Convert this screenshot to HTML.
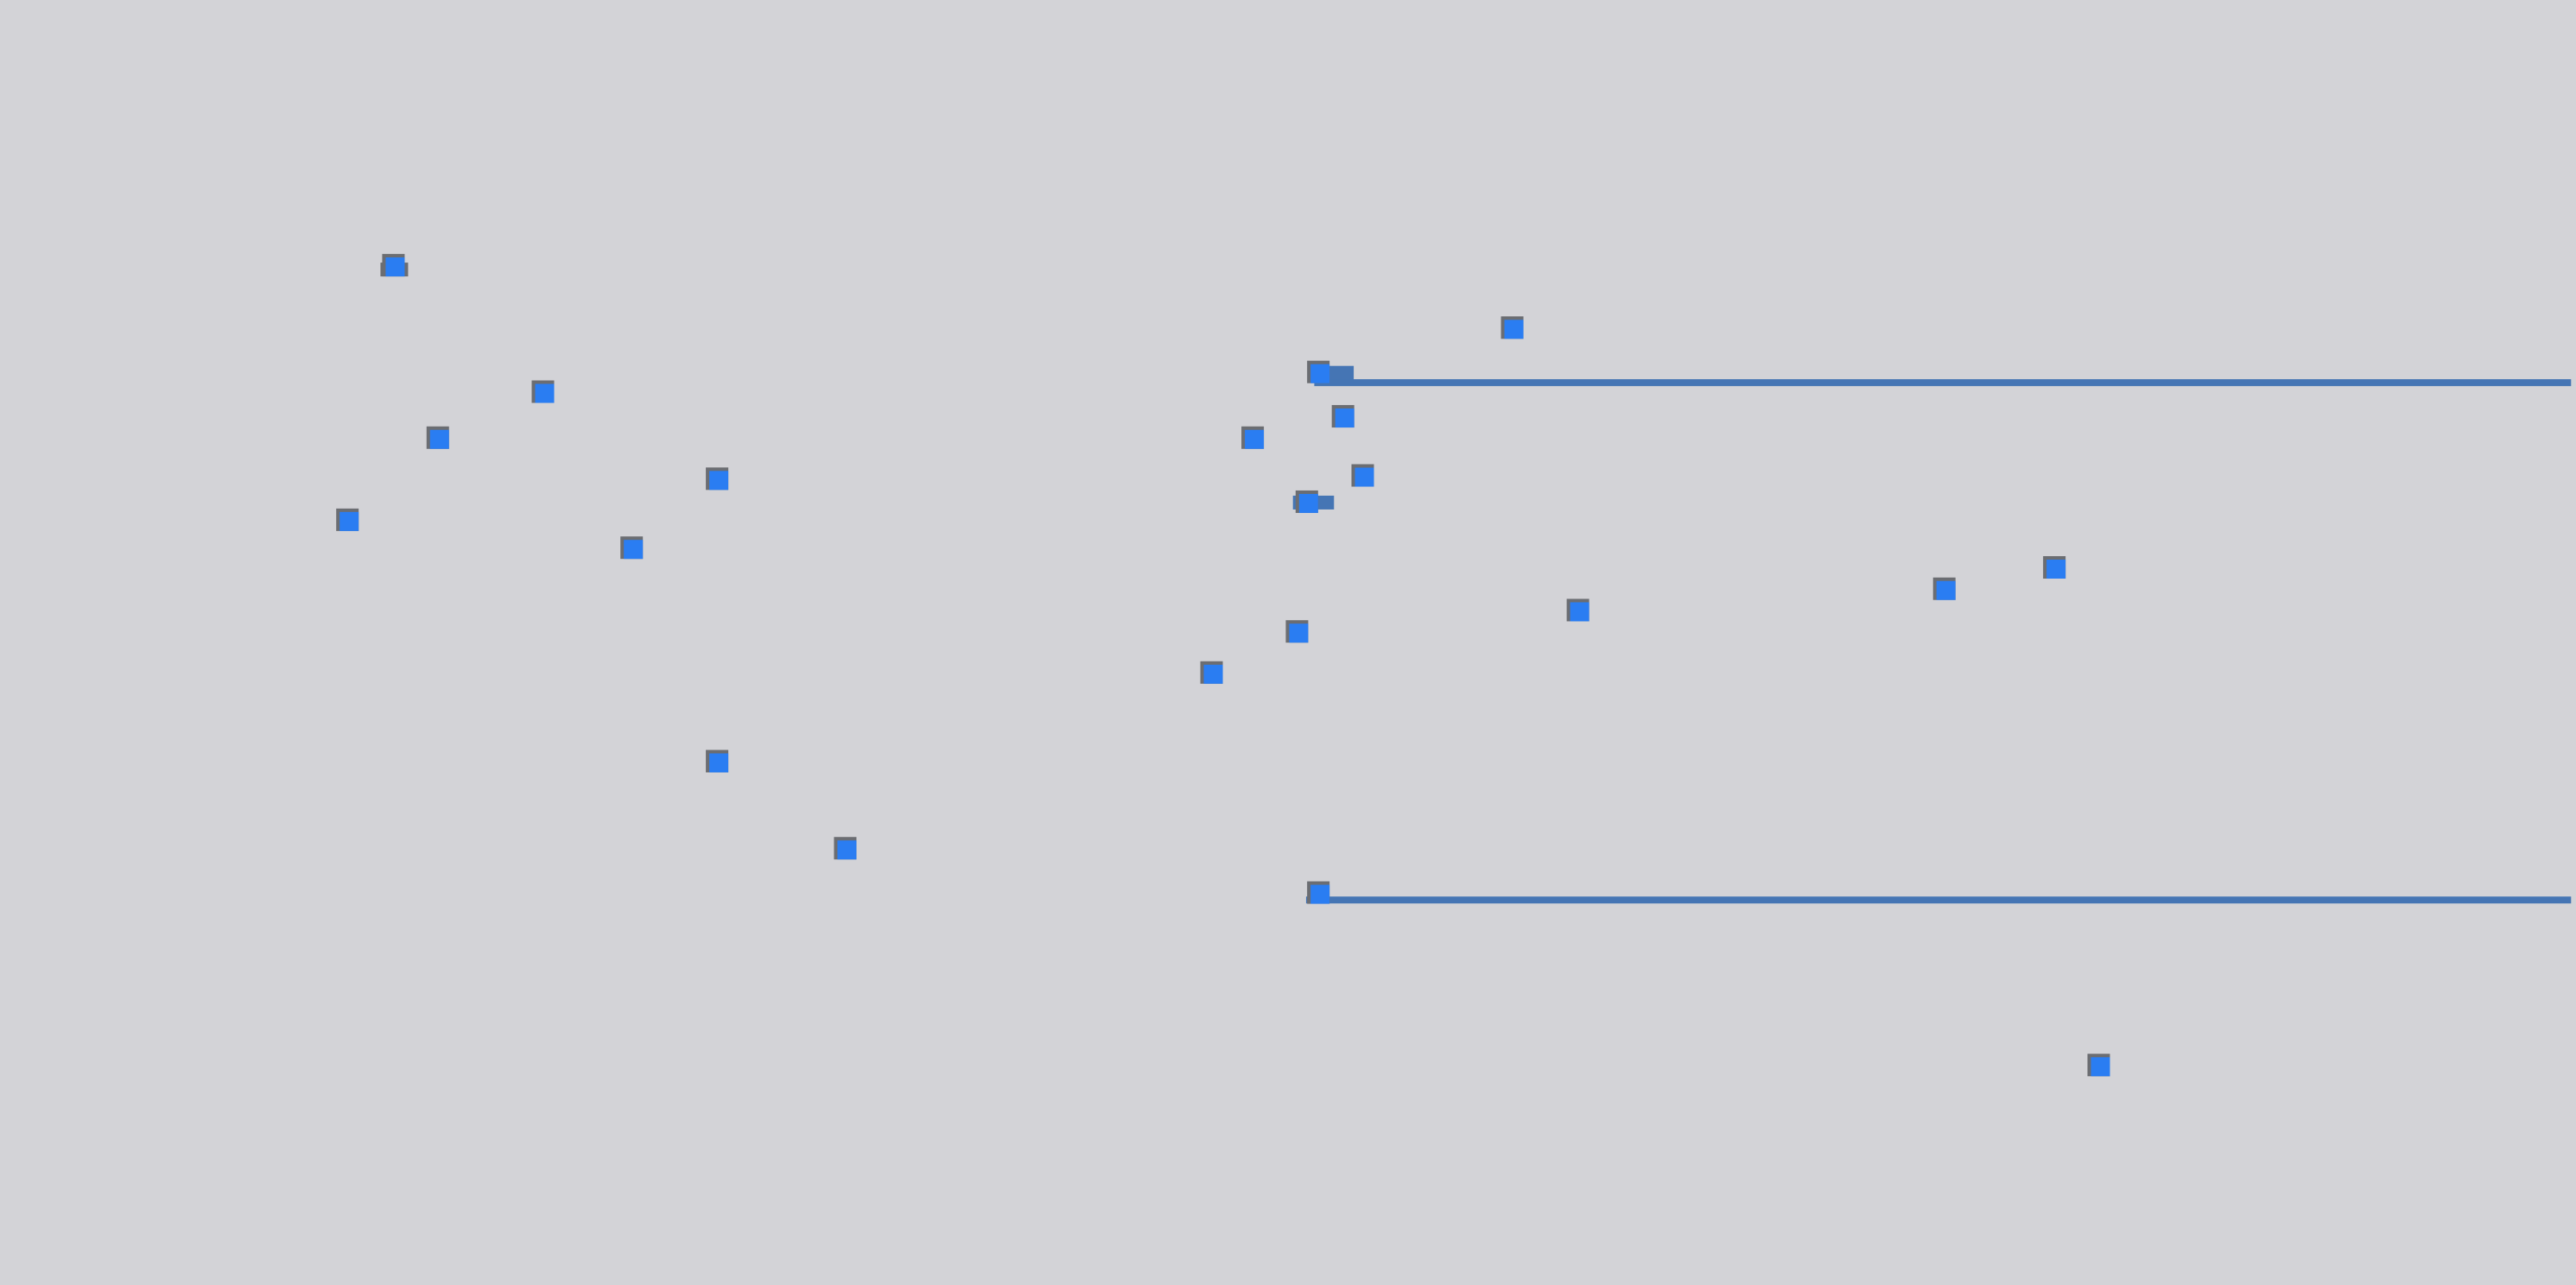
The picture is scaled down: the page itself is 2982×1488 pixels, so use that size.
<!DOCTYPE html>
<html><head><meta charset="utf-8"><style>
html,body{margin:0;padding:0;background:#d3d3d7;}
svg{display:block}
</style></head><body>
<svg id="chart" width="2982" height="1488" viewBox="0 0 2982 1488" xmlns="http://www.w3.org/2000/svg">
<rect width="2982" height="1488" fill="#d3d3d7"/>
<g id="lines"></g><g id="points"></g>
</svg>
<script>
const xValues = [240,331,267,212,437,385,437,515,921,803,818,763,830,796,790,738,961,1184,1251,803,1278];
const yValues = [162,239,267,317,292,334,464,517,200,227,254,267,290,306,385,410,372,359,346,544,649];
const lineStartX = [800,795];
const lineEndX = [1565,1565];
const lineY = [233,548];
const tabStartX = [803,787];
const tabEndX = [824,812];
const tabY = [227,306];
const S = 2982/1568;
const xScale = v => v*S;
const yScale = v => v*S;
const ns = 'http://www.w3.org/2000/svg';
const lg = document.getElementById('lines');
for (let i=0;i<lineY.length;i++){
  const r = document.createElementNS(ns,'rect');
  r.setAttribute('x', xScale(lineStartX[i]));
  r.setAttribute('y', yScale(lineY[i])-4);
  r.setAttribute('width', xScale(lineEndX[i])-xScale(lineStartX[i]));
  r.setAttribute('height', 8);
  r.setAttribute('fill', '#4575b4');
  
  
  lg.appendChild(r);
}
for (let i=0;i<tabY.length;i++){
  const r = document.createElementNS(ns,'rect');
  r.setAttribute('x', xScale(tabStartX[i]));
  r.setAttribute('y', yScale(tabY[i])-8);
  r.setAttribute('width', xScale(tabEndX[i])-xScale(tabStartX[i]));
  r.setAttribute('height', 16);
  r.setAttribute('fill', '#4575b4');
  
  
  lg.appendChild(r);
}
const pg = document.getElementById('points');
for (let i=0;i<xValues.length;i++){
  const cx = xScale(xValues[i]), cy = yScale(yValues[i]);
  const g = document.createElementNS(ns,'rect');
  g.setAttribute('x', cx-14); g.setAttribute('y', cy-14);
  g.setAttribute('width', 26); g.setAttribute('height', 26);
  g.setAttribute('fill', '#6b6d72');
  
  
  pg.appendChild(g);
  const r = document.createElementNS(ns,'rect');
  r.setAttribute('x', cx-10); r.setAttribute('y', cy-10);
  r.setAttribute('width', 22); r.setAttribute('height', 22);
  r.setAttribute('fill', '#2a7df2');
  
  
  pg.appendChild(r);
}
const n0 = document.createElementNS(ns,'rect');
n0.setAttribute('x', xScale(xValues[0])-16); n0.setAttribute('y', yScale(yValues[0])-4);
n0.setAttribute('width', 32); n0.setAttribute('height', 16);
n0.setAttribute('fill', '#6b6d72');


pg.insertBefore(n0, pg.firstChild);
</script>
</body></html>
